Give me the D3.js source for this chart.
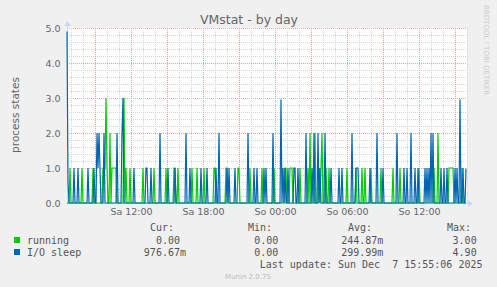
<!DOCTYPE html>
<html>
<head>
<meta charset="utf-8">
<script src="https://d3js.org/d3.v7.min.js"></script>
<style>
  body { margin: 0; background: #f0f0f0; }
  svg { display: block; }
</style>
</head>
<body>
<div id="chart"></div>
<script>
var startTime = new Date(2025, 11, 6, 6, 40);
var endTime = new Date(2025, 11, 7, 16, 0);
var stepMinutes = 5;
var sampleCount = 400;

// [sample index, value]; every other sample is 0
var runningPeaks = [[3,1],[15,1],[26,1],[36,1],[37,1],[38,1],[39,3],[40,1],[43,2],[45,1],[46,1],[47,1],[48,1],[49,1],
  [57,3],[59,1],[63,1],[76,1],[87,1],[99,1],[107,1],[108,1],[111,1],[125,1],[130,1],[137,1],[147,1],[148,1],[159,1],
  [160,1],[171,1],[172,1],[183,1],[195,1],[207,1],[218,1],[219,1],[223,1],[224,1],[225,1],[233,1],[241,1],[243,2],
  [248,2],[252,1],[254,1],[255,2],[259,1],[262,1],[280,1],[289,1],[295,1],[298,1],[304,1],[314,1],[326,1],[333,1],
  [352,1],[367,1],[371,2],[382,1],[383,1],[384,1],[385,1],[386,1],[395,1]];
var ioSleepPeaks = [[0,4.9],[1,0.6],[7,1],[11,1],[21,1],[27,1],[30,2],[31,1],[32,2],[33,1],[37,2],[50,2],[55,2],[56,3],
  [67,1],[79,1],[80,1],[84,1],[93,2],[101,1],[108,1],[119,2],[123,1],[134,1],[140,1],[149,1],[152,2],[160,1],[162,1],
  [168,1],[181,2],[187,1],[190,1],[197,1],[199,1],[206,2],[214,2.96],[216,1],[218,1],[221,1],[227,1],[228,1],[231,1],
  [239,2],[245,1],[247,2],[251,2],[253,1],[258,2],[264,1],[272,1],[275,1],[285,2],[289,1],[290,1],[291,1],[303,1],
  [310,2],[316,1],[330,2],[337,1],[340,1],[344,2],[348,1],[351,1],[358,1],[360,1],[362,1],[364,2],[366,2],[374,1],
  [377,1],[380,1],[388,1],[390,1],[393,2.96],[396,1],[399,0.98]];

var dayNames = ["So", "Mo", "Di", "Mi", "Do", "Fr", "Sa"];
var yTicks = [0, 1, 2, 3, 4, 5];

var legendNames = ["running", "I/O sleep"];
var legendColors = ["#00cc00", "#0066b3"];
var curValues = ["0.00", "976.67m"];
var minValues = ["0.00", "0.00"];
var avgValues = ["244.87m", "299.99m"];
var maxValues = ["3.00", "4.90"];
var lastUpdate = "Last update: Sun Dec  7 15:55:06 2025";

var width = 497, height = 287;
var svg = d3.select("#chart").append("svg").attr("width", width).attr("height", height);

var x = d3.scaleTime().domain([startTime, endTime]).range([67, 467]);
var y = d3.scaleLinear().domain([0, 5]).range([203, 28]);

function buildSeries(peaks) {
    var vals = new Array(sampleCount).fill(0);
    peaks.forEach(function (p) { vals[p[0]] = p[1]; });
    return vals.map(function (v, i) {
        return { t: new Date(+startTime + i * stepMinutes * 60000), v: v };
    });
}

// canvas
svg.append("rect").attr("x", 67).attr("y", 28).attr("width", 400).attr("height", 175).attr("fill", "#fff");

// grid
var grid = svg.append("g");
d3.range(0, 5.01, 0.2).forEach(function (v) {
    var major = Math.abs(v - Math.round(v)) < 0.001;
    grid.append("line")
        .attr("x1", 67).attr("x2", 467)
        .attr("y1", Math.round(y(v)) + 0.5).attr("y2", Math.round(y(v)) + 0.5)
        .attr("stroke", major ? "#f0a0a0" : "#d4d4d4")
        .attr("stroke-dasharray", "1,1");
});
x.ticks(d3.timeHour.every(1)).forEach(function (t) {
    var major = t.getHours() % 3 == 0;
    grid.append("line")
        .attr("y1", 28).attr("y2", 203)
        .attr("x1", Math.round(x(t)) + 0.5).attr("x2", Math.round(x(t)) + 0.5)
        .attr("stroke", major ? "#f0a0a0" : "#d4d4d4")
        .attr("stroke-dasharray", "1,1");
});

// axes (drawn under the lines, like rrdtool)
var axisColor = "#cfd6f8";
svg.append("line").attr("x1", 67).attr("x2", 469).attr("y1", 203.5).attr("y2", 203.5).attr("stroke", axisColor);
svg.append("line").attr("x1", 67.5).attr("x2", 67.5).attr("y1", 203).attr("y2", 25).attr("stroke", axisColor);
svg.append("path").attr("d", "M468,200L473,203.5L468,207Z").attr("fill", axisColor);
svg.append("path").attr("d", "M64,26L67.5,21L71,26Z").attr("fill", axisColor);

// lines
var line = d3.line().x(function (d) { return x(d.t); }).y(function (d) { return y(d.v); });
[runningPeaks, ioSleepPeaks].forEach(function (peaks, k) {
    svg.append("path")
        .datum(buildSeries(peaks))
        .attr("d", line)
        .attr("fill", "none")
        .attr("stroke", legendColors[k])
        .attr("stroke-width", 1.2);
});

var xAxis = d3.axisBottom(x)
    .ticks(d3.timeHour.every(6))
    .tickSize(0)
    .tickPadding(0)
    .tickFormat(function (d) { return dayNames[d.getDay()] + " " + d3.timeFormat("%H:%M")(d); });
svg.append("g").attr("transform", "translate(0,208)").call(xAxis)
    .call(function (g) { g.select(".domain").remove(); })
    .selectAll("text").attr("fill", "#666").attr("dy", "0.71em")
    .style("font-family", "DejaVu Sans").style("font-size", "9.5px");

var yAxis = d3.axisLeft(y).tickValues(yTicks).tickSize(0).tickPadding(0).tickFormat(d3.format(".1f"));
svg.append("g").attr("transform", "translate(60.5,0)").call(yAxis)
    .call(function (g) { g.select(".domain").remove(); })
    .selectAll("text").attr("fill", "#666").attr("dy", "0.35em")
    .style("font-family", "DejaVu Sans").style("font-size", "9.5px");

// titles
svg.append("text").attr("x", 249).attr("y", 23.5).attr("text-anchor", "middle")
    .style("font-family", "DejaVu Sans").style("font-size", "12.5px").attr("fill", "#666")
    .text("VMstat - by day");
svg.append("text").attr("transform", "translate(15,115) rotate(-90)").attr("text-anchor", "middle")
    .attr("dy", "0.35em")
    .style("font-family", "DejaVu Sans").style("font-size", "10.5px").attr("fill", "#666")
    .text("process states");
svg.append("text").attr("transform", "translate(484,5) rotate(90)").attr("text-anchor", "start")
    .style("font-family", "DejaVu Sans").style("font-size", "7px").attr("fill", "#ccc")
    .text("RRDTOOL / TOBI OETIKER");

// legend
var mono = "DejaVu Sans Mono";
var legend = svg.append("g").style("font-family", mono).style("font-size", "10px").attr("fill", "#555");
var charW = 6.02;
[["Cur:", 150], ["Min:", 248], ["Avg:", 348], ["Max:", 447]].forEach(function (h) {
    legend.append("text").attr("x", h[1]).attr("y", 231).text(h[0]);
});
var cols = [[curValues, 186], [minValues, 284.3], [avgValues, 383.3], [maxValues, 482.7]];
legendNames.forEach(function (name, i) {
    var base = 244 + i * 12;
    legend.append("rect").attr("x", 14).attr("y", base - 7).attr("width", 6).attr("height", 6)
        .attr("fill", legendColors[i]);
    legend.append("text").attr("x", 27).attr("y", base).text(name);
    cols.forEach(function (c) {
        var s = c[0][i];
        var hasUnit = /[a-zA-Z]$/.test(s);
        legend.append("text").attr("x", c[1] - (hasUnit ? 0 : charW)).attr("y", base)
            .attr("text-anchor", "end").text(s);
    });
});
legend.append("text").attr("x", 482.5).attr("y", 267.5).attr("text-anchor", "end")
    .style("white-space", "pre").text(lastUpdate);

svg.append("text").attr("x", 248).attr("y", 279).attr("text-anchor", "middle")
    .style("font-family", "DejaVu Sans").style("font-size", "7px").attr("fill", "#bbb")
    .text("Munin 2.0.75");
</script>
</body>
</html>
